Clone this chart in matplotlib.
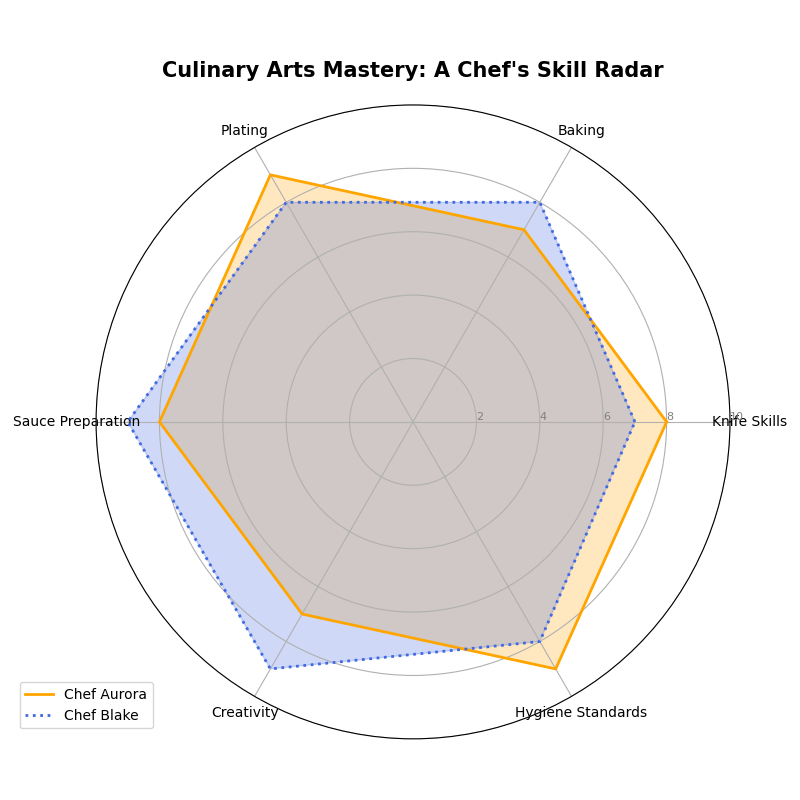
import numpy as np
import matplotlib.pyplot as plt

# Datos del radar
categorias = ["Knife Skills", "Baking", "Plating", "Sauce Preparation", "Creativity", "Hygiene Standards"]
aurora = [8, 7, 9, 8, 7, 9]
blake = [7, 8, 8, 9, 9, 8]

n = len(categorias)
angulos = np.linspace(0, 2 * np.pi, n, endpoint=False).tolist()
angulos += angulos[:1]
aurora_c = aurora + aurora[:1]
blake_c = blake + blake[:1]

fig, ax = plt.subplots(figsize=(8, 8), subplot_kw=dict(polar=True))

ax.plot(angulos, aurora_c, color='orange', linewidth=2, label='Chef Aurora')
ax.fill(angulos, aurora_c, color='orange', alpha=0.25)
ax.plot(angulos, blake_c, color='royalblue', linewidth=2, linestyle=':', label='Chef Blake')
ax.fill(angulos, blake_c, color='royalblue', alpha=0.25)

ax.set_xticks(angulos[:-1])
ax.set_xticklabels(categorias, fontsize=10)
ax.set_ylim(0, 10)
ax.set_yticks([2, 4, 6, 8, 10])
ax.set_yticklabels(["2", "4", "6", "8", "10"], color='grey', fontsize=8)
ax.set_rlabel_position(0)
ax.grid(color='#b0b0b0')

ax.set_title("Culinary Arts Mastery: A Chef's Skill Radar", fontsize=15, fontweight='bold', pad=20)
ax.legend(loc='upper right', bbox_to_anchor=(0.1, 0.1))

plt.tight_layout()
plt.savefig("out.png", dpi=100)
